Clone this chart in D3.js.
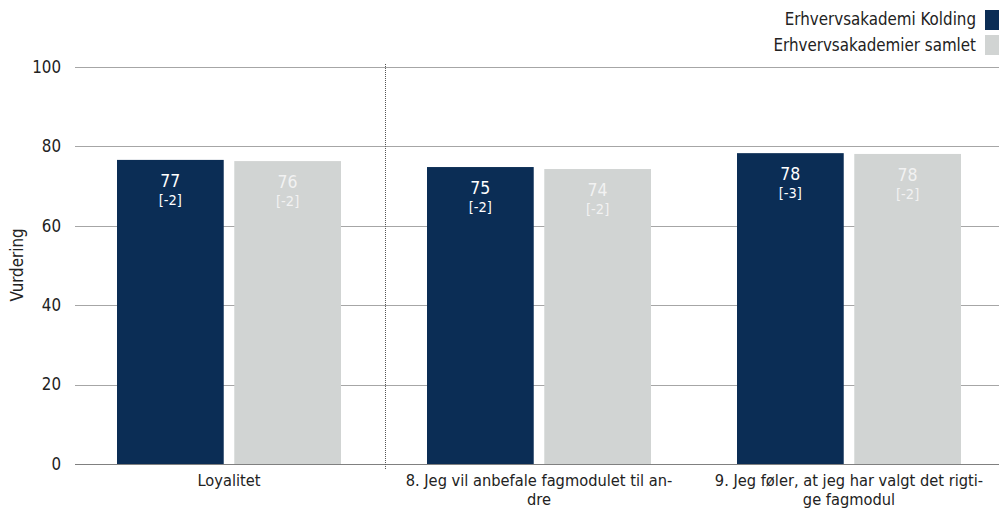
<!DOCTYPE html>
<html><head><meta charset="utf-8">
<script src="https://cdn.jsdelivr.net/npm/d3@7"></script>
<style>body{margin:0;background:#fff}svg{display:block}text{font-family:"DejaVu Sans Condensed","DejaVu Sans",sans-serif}</style>
</head><body>
<svg id="c" width="999" height="510"></svg>
<script>
const categories = [["Loyalitet"], ["8. Jeg vil anbefale fagmodulet til an-", "dre"], ["9. Jeg føler, at jeg har valgt det rigti-", "ge fagmodul"]];
const seriesNames = ["Erhvervsakademi Kolding", "Erhvervsakademier samlet"];
const koldingValues = [76.6, 74.8, 78.3];
const samletValues = [76.3, 74.3, 78.1];
const koldingLabels = ["77", "75", "78"];
const samletLabels = ["76", "74", "78"];
const koldingDelta = ["[-2]", "[-2]", "[-3]"];
const samletDelta = ["[-2]", "[-2]", "[-2]"];
const yTicks = [0, 20, 40, 60, 80, 100];

const colors = ["#0b2d55", "#d1d4d3"];
const labelColors = ["#ffffff", "#f2f2f2"];
const fs = 16.8;
const svg = d3.select("#c");
const y = d3.scaleLinear().domain([0, 100]).range([464, 67]);
const x0 = d3.scaleBand().domain(d3.range(categories.length)).range([74, 1004]);
const x1 = d3.scaleBand().domain([0, 1]).range([43, 267]).paddingInner(0.09);

// gridlines
svg.append("g").selectAll("line").data(yTicks).join("line")
  .attr("x1", 75).attr("x2", 999)
  .attr("y1", d => Math.round(y(d)) + 0.5).attr("y2", d => Math.round(y(d)) + 0.5)
  .attr("stroke", d => d === 0 ? "#808080" : "#a6a6a6").attr("stroke-width", 1);
svg.append("g").selectAll("text").data(yTicks).join("text")
  .attr("x", 61).attr("y", d => y(d)).attr("dy", "0.35em")
  .attr("text-anchor", "end").attr("font-size", fs).attr("fill", "#222").text(d => d);

svg.append("text").attr("transform", "translate(23,265) rotate(-90)")
  .attr("text-anchor", "middle").attr("font-size", fs).attr("fill", "#222").text("Vurdering");

// divider
svg.append("line").attr("x1", 385.5).attr("x2", 385.5).attr("y1", 64).attr("y2", 470)
  .attr("stroke", "#555").attr("stroke-dasharray", "1,1");

const series = [
  {vals: koldingValues, labels: koldingLabels, delta: koldingDelta},
  {vals: samletValues, labels: samletLabels, delta: samletDelta}
];
series.forEach((s, si) => {
  const g = svg.append("g");
  g.selectAll("rect").data(s.vals).join("rect")
    .attr("x", (d, i) => x0(i) + x1(si)).attr("width", x1.bandwidth())
    .attr("y", d => y(d)).attr("height", d => y(0) - y(d)).attr("fill", colors[si]);
  g.selectAll("text.v").data(s.vals).join("text").attr("class", "v")
    .attr("x", (d, i) => x0(i) + x1(si) + x1.bandwidth() / 2)
    .attr("y", d => y(d) + 27).attr("text-anchor", "middle")
    .attr("font-size", 17.5).attr("fill", labelColors[si]).text((d, i) => s.labels[i]);
  g.selectAll("text.d").data(s.vals).join("text").attr("class", "d")
    .attr("x", (d, i) => x0(i) + x1(si) + x1.bandwidth() / 2)
    .attr("y", d => y(d) + 45).attr("text-anchor", "middle")
    .attr("font-size", 14.5).attr("fill", labelColors[si]).text((d, i) => s.delta[i]);
});

// x labels (separate text per line)
categories.forEach((lines, i) => {
  lines.forEach((l, li) => {
    svg.append("text").attr("text-anchor", "middle").attr("font-size", 16.3).attr("fill", "#222")
      .attr("x", x0(i) + x0.bandwidth() / 2).attr("y", 486 + li * 19).text(l);
  });
});

// legend
seriesNames.forEach((n, i) => {
  svg.append("text").attr("x", 976).attr("y", 19 + i * 26).attr("dy", "0.35em")
    .attr("text-anchor", "end").attr("font-size", fs).attr("fill", "#222").text(n);
  svg.append("rect").attr("x", 985).attr("y", 10 + i * 25).attr("width", 14).attr("height", 20).attr("fill", colors[i]);
});
</script>
</body></html>
